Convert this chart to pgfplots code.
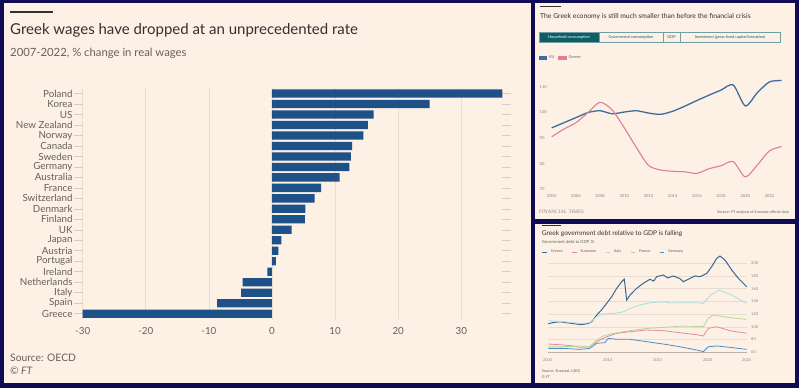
\documentclass[border=0pt]{standalone}
\usepackage{pgfplots}
\pgfplotsset{compat=1.18}
\usepgfplotslibrary{fillbetween}
\usepackage{fontspec}
\setmainfont{Lato}
\newfontfamily\serifft{Liberation Serif}
\definecolor{navy}{HTML}{110A55}
\definecolor{paper}{HTML}{FDF1E6}
\definecolor{barc}{HTML}{1F5189}
\definecolor{labc}{HTML}{66605C}
\definecolor{titc}{HTML}{33302E}
\definecolor{gridc}{HTML}{E9DDD2}
\definecolor{tickc}{HTML}{D9CCC0}
\definecolor{fillc}{HTML}{DED6CD}
\definecolor{eublue}{HTML}{3F6C9B}
\definecolor{grpink}{HTML}{E07C9A}
\definecolor{teal}{HTML}{0F5E66}
\definecolor{dgr}{HTML}{3E6695}
\definecolor{dez}{HTML}{E5879F}
\definecolor{dit}{HTML}{A3E0E0}
\definecolor{dfr}{HTML}{B7D693}
\definecolor{dde}{HTML}{4C8FC6}
\definecolor{smallc}{HTML}{8A8580}

\pgfplotstableread{
y val
0 -30.0
1 -8.7
2 -4.9
3 -4.65
4 -0.74
5 0.6
6 1.0
7 1.5
8 3.1
9 5.2
10 5.3
11 6.75
12 7.8
13 10.7
14 12.25
15 12.5
16 12.7
17 14.5
18 15.2
19 16.1
20 25.0
21 36.5
}\wages

\pgfplotstableread{
year eu gr
2004 94.0 90.5
2005 96.0 93.5
2006 98.0 96.0
2007 100.0 100.0
2008 100.7 104.0
2009 99.5 101.0
2010 100.2 94.0
2011 100.7 86.3
2012 99.8 79.3
2013 99.3 77.5
2014 100.5 77.0
2015 102.5 76.8
2016 104.7 76.2
2017 106.8 78.0
2018 108.8 79.2
2019 110.8 80.8
2020 102.6 74.8
2021 107.8 79.5
2022 112.0 85.0
2023 112.5 86.7
}\econ

\pgfplotstableread{
x v
2004.06 105
2004.6 107
2005.2 108
2005.9 106.5
2006.6 105
2007.1 104
2007.6 104
2008.0 105
2008.4 108
2008.9 118.5
2009.4 127
2009.9 137
2010.4 147.4
2010.9 160.6
2011.4 171
2011.66 175
2011.9 142
2012.23 150
2012.9 160.6
2013.56 168.5
2014.23 174.8
2014.6 172
2014.9 178.9
2015.56 181.5
2016.0 177
2016.56 180
2017.2 176
2017.56 171
2018.23 176.3
2018.7 180
2019.23 178.9
2019.9 184
2020.4 194.6
2020.9 207.7
2021.23 211.3
2021.73 205
2022.4 189.4
2023.06 176.3
2023.56 168.5
2023.9 163
}\dgreece

\pgfplotstableread{
x v
2004.06 73
2005.56 71.5
2006.5 70
2007.2 67.8
2008.2 68.8
2008.9 76.7
2009.9 84.5
2010.9 89.8
2012.23 92.4
2013.9 95
2015.56 94
2017.2 90.8
2018.9 87.7
2019.56 85.6
2020.06 97.6
2020.9 100.3
2022.2 94
2023.9 89.8
}\deuro

\pgfplotstableread{
x v
2004.06 109.7
2005.56 108.1
2007.2 105.5
2008.2 106.5
2008.9 115.9
2009.4 120.1
2010.56 121.1
2011.56 123.7
2012.23 128.9
2013.2 134.2
2014.2 137.8
2015.56 139.4
2016.3 137.5
2017.2 137.8
2018.9 137.8
2019.56 136.8
2020.3 150
2021.1 158
2022.3 151
2023.56 139.6
2023.9 137
}\ditaly

\pgfplotstableread{
x v
2004.06 68.8
2005.56 68.8
2007.2 69.9
2008.2 68.8
2008.9 79.3
2009.56 85.6
2010.56 89.8
2012.23 94
2013.9 97.6
2015.56 99.2
2017.56 101.3
2019.56 100.3
2020.06 113.4
2020.56 118.6
2021.56 116
2022.9 113.4
2023.9 111.8
}\dfrance

\pgfplotstableread{
x v
2004.06 66.2
2005.56 66.2
2007.2 64.6
2008.2 66.2
2008.9 74.1
2009.7 75.2
2010.06 82
2010.9 80.4
2012.23 80.4
2013.9 76.7
2015.56 73
2017.2 68.8
2018.9 63.6
2019.56 61
2020.06 68.8
2020.9 69.9
2022.2 67.8
2023.9 64.6
}\dgermany

\begin{document}
\begin{tikzpicture}
% backgrounds
\fill[navy] (0pt,0pt) rectangle (799pt,388pt);
\fill[paper] (4pt,5pt) rectangle (531pt,385pt);
\fill[paper] (535pt,169pt) rectangle (795pt,385pt);
\fill[paper] (535pt,5pt) rectangle (795pt,164pt);

% ---------- Left panel ----------
\fill[titc] (10pt,374.5pt) rectangle (53pt,377pt);
\node[anchor=base west, inner sep=0pt, text=titc, font=\fontsize{15}{18}\selectfont] at (10pt,353.7pt) {Greek wages have dropped at an unprecedented rate};
\node[anchor=base west, inner sep=0pt, text=labc, font=\fontsize{11.3}{13}\selectfont] at (10pt,331.3pt) {2007-2022, \% change in real wages};
\node[anchor=base west, inner sep=0pt, text=labc, font=\fontsize{10.3}{12}\selectfont] at (10pt,26.3pt) {Source: OECD};
\node[anchor=base west, inner sep=0pt, text=labc, font=\fontsize{10.3}{12}\selectfont\itshape] at (10pt,13.7pt) {\textcopyright{} FT};

\begin{axis}[at={(82.7pt,69.1pt)}, anchor=south west, scale only axis,
  width=419.6pt, height=230.6pt,
  xmin=-30, xmax=36.5, ymin=-0.5, ymax=21.5,
  xtick={-30,-20,-10,0,10,20,30},
  xticklabels={-30,-20,-10,0,10,20,30},
  ytick={0,...,21},
  yticklabels={Greece,Spain,Italy,Netherlands,Ireland,Portugal,Austria,Japan,UK,Finland,Denmark,Switzerland,France,Australia,Germany,Sweden,Canada,Norway,New Zealand,US,Korea,Poland},
  axis line style={draw=none},
  xmajorgrids, grid style={gridc, line width=0.6pt},
  tick align=outside, major tick length=9pt,
  x tick style={draw=none}, y tick style={tickc, line width=0.6pt},
  ticklabel style={text=labc, font=\fontsize{9.8}{11}\selectfont},
  yticklabel style={inner sep=1pt},
  xticklabel style={yshift=4pt},
  /pgf/number format/assume math mode=true,
  clip=false]
\addplot[xbar, bar width=8.3pt, fill=barc, draw=none] table[x=val, y=y] {\wages};
\end{axis}

% ---------- Top right panel ----------
\fill[titc] (540pt,380.6pt) rectangle (561pt,382pt);
\node[anchor=base west, inner sep=0pt, text=titc, font=\fontsize{6.8}{8}\selectfont] at (540pt,369.3pt) {The Greek economy is still much smaller than before the financial crisis};
\begin{scope}[font=\fontsize{3.9}{4.5}\selectfont]
\filldraw[fill=teal, draw=teal!60, line width=0.4pt] (539pt,345.3pt) rectangle (599pt,355.7pt);
\draw[teal!60, line width=0.4pt] (599pt,345.3pt) rectangle (663pt,355.7pt);
\draw[teal!60, line width=0.4pt] (663pt,345.3pt) rectangle (680pt,355.7pt);
\draw[teal!60, line width=0.4pt] (680pt,345.3pt) rectangle (780pt,355.7pt);
\node[text=white] at (569pt,350.5pt) {Household consumption};
\node[text=teal] at (631pt,350.5pt) {Government consumption};
\node[text=teal] at (671.5pt,350.5pt) {GDP};
\node[text=teal] at (730pt,350.5pt) {Investment (gross fixed capital formation)};
\end{scope}
\node[anchor=base west, inner sep=0pt, text=smallc, font=\serifft\fontsize{5.2}{6}\selectfont] at (539pt,174pt) {FINANCIAL TIMES};
\node[anchor=base east, inner sep=0pt, text=labc, font=\fontsize{3.8}{4.5}\selectfont] at (789pt,174.5pt) {Source: FT analysis of Eurostat official data};

\begin{axis}[at={(551.7pt,198.8pt)}, anchor=south west, scale only axis,
  width=229.9pt, height=109.9pt,
  xmin=2004, xmax=2023, ymin=70, ymax=113,
  xtick={2004,2006,...,2022},
  xticklabels={2004,2006,2008,2010,2012,2014,2016,2018,2020,2022},
  ytick={70,80,90,100,110},
  yticklabels={70,80,90,100,110},
  axis x line*=bottom, axis y line*=left,
  x axis line style={smallc!70, line width=0.5pt},
  y axis line style={draw=none},
  ymajorgrids, grid style={gridc, line width=0.5pt},
  tick align=outside, major tick length=2.5pt,
  x tick style={smallc!70, line width=0.4pt}, y tick style={draw=none},
  ticklabel style={text=smallc, font=\fontsize{4.1}{5}\selectfont},
  yticklabel style={anchor=west, xshift=-13pt},
  xticklabel style={yshift=0.5pt},
  /pgf/number format/assume math mode=true,
  clip=false,
  legend style={at={(-0.0552,1.194)}, anchor=west, draw=none, fill=none,
    font=\fontsize{3.9}{4.5}\selectfont, text=labc, legend columns=2,
    /tikz/every even column/.append style={column sep=2pt},
    inner sep=0pt, outer sep=0pt},
  legend image code/.code={\fill[#1] (0pt,-1.2pt) rectangle (7pt,1.2pt);}]
\addplot[name path=eu, eublue, line width=1.3pt, smooth, tension=0.45] table[x=year, y=eu] {\econ};
\addlegendentry{EU}
\addplot[name path=gr, grpink, line width=1.1pt, smooth, tension=0.45] table[x=year, y=gr] {\econ};
\addlegendentry{Greece}
\addplot[fillc, fill opacity=0.9, forget plot] fill between[of=eu and gr];
\end{axis}

% ---------- Bottom right panel ----------
\fill[titc] (541.7pt,161.6pt) rectangle (560.7pt,163pt);
\node[anchor=base west, inner sep=0pt, text=titc, font=\fontsize{6.6}{8}\selectfont] at (541.7pt,152.3pt) {Greek government debt relative to GDP is falling};
\node[anchor=base west, inner sep=0pt, text=labc, font=\fontsize{4.2}{5}\selectfont] at (541.7pt,144pt) {Government debt to GDP, \%};
\node[anchor=base west, inner sep=0pt, text=labc, font=\fontsize{3.8}{4.5}\selectfont] at (541.7pt,15.3pt) {Source: Eurostat, LSEG};
\node[anchor=base west, inner sep=0pt, text=labc, font=\fontsize{3.8}{4.5}\selectfont\itshape] at (541.7pt,10pt) {\textcopyright{} FT};

\begin{axis}[at={(547.7pt,35.7pt)}, anchor=south west, scale only axis,
  width=199pt, height=98.6pt,
  xmin=2004, xmax=2023.9, ymin=60, ymax=215,
  xtick={2004,2010,2015,2020,2023.9},
  xticklabels={2004,2010,2015,2020,2023},
  ytick={60,80,...,200},
  yticklabels={60,80,100,120,140,160,180,200},
  yticklabel pos=right,
  axis x line*=bottom, axis y line*=right,
  x axis line style={gridc!80!black, line width=0.5pt},
  y axis line style={draw=none},
  ymajorgrids, grid style={gridc, line width=0.4pt},
  x tick style={draw=none}, y tick style={draw=none},
  ticklabel style={text=smallc, font=\fontsize{3.9}{4.5}\selectfont},
  yticklabel style={anchor=west, xshift=1pt},
  xticklabel style={yshift=-3pt},
  /pgf/number format/assume math mode=true,
  clip=false,
  legend style={at={(-0.029,1.017)}, anchor=west, draw=none, fill=none,
    font=\fontsize{3.8}{4.5}\selectfont, text=labc, legend columns=5,
    /tikz/every even column/.append style={column sep=7pt},
    /tikz/every odd column/.append style={column sep=1.5pt},
    inner sep=0pt, outer sep=0pt},
  legend image code/.code={\draw[#1, line width=0.9pt] (0pt,0pt) -- (4.5pt,0pt);}]
\addplot[dgr, line width=1pt] table[x=x, y=v] {\dgreece};
\addlegendentry{Greece}
\addplot[dez, line width=0.8pt] table[x=x, y=v] {\deuro};
\addlegendentry{Eurozone}
\addplot[dit, line width=0.8pt] table[x=x, y=v] {\ditaly};
\addlegendentry{Italy}
\addplot[dfr, line width=0.8pt] table[x=x, y=v] {\dfrance};
\addlegendentry{France}
\addplot[dde, line width=0.8pt] table[x=x, y=v] {\dgermany};
\addlegendentry{Germany}
\end{axis}
\end{tikzpicture}
\end{document}
